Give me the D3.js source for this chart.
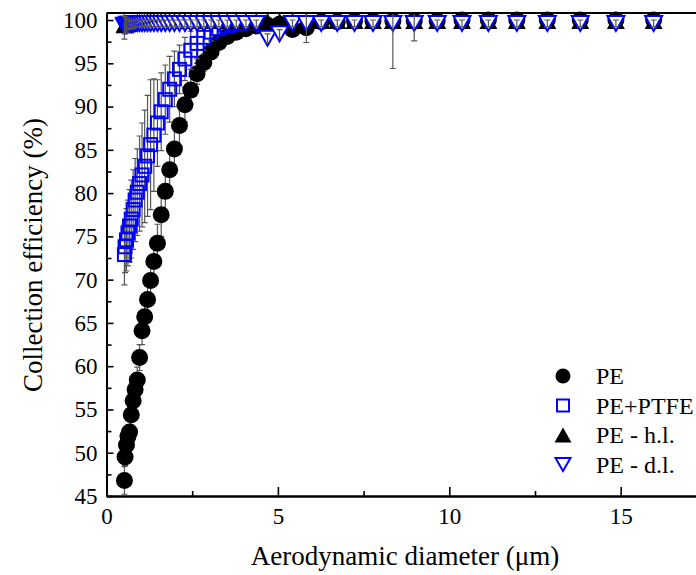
<!DOCTYPE html>
<html lang="en">
<head>
<meta charset="UTF-8">
<title>Collection efficiency vs aerodynamic diameter</title>
<script src="https://cdn.jsdelivr.net/npm/d3@7"></script>
<style>
  body { margin: 0; background: #fff; }
  svg { display: block; font-family: "Liberation Serif", "Times New Roman", serif; }
</style>
</head>
<body>
<svg id="chart" width="696" height="575"></svg>
<script>
// APS channel mid-point diameters (um)
const diameter = [0.523, 0.542, 0.583, 0.626, 0.673, 0.723, 0.777, 0.835, 0.898, 0.965,
  1.037, 1.114, 1.197, 1.286, 1.382, 1.486, 1.596, 1.715, 1.843, 1.981,
  2.129, 2.288, 2.458, 2.642, 2.839, 3.051, 3.278, 3.523, 3.786, 4.068,
  4.371, 4.698, 5.048, 5.425, 5.829, 6.264, 6.732, 7.234, 7.774, 8.354,
  8.977, 9.647, 10.37, 11.14, 11.97, 12.86, 13.82, 14.86, 15.96];

// PE
const pe = [46.8, 49.5, 50.9, 51.9, 52.4, 54.4, 56.0, 57.3, 58.4, 61.0,
  64.1, 65.7, 67.7, 69.9, 72.1, 74.2, 77.5, 80.2, 82.7, 85.1,
  87.8, 90.2, 91.9, 93.8, 95.1, 96.3, 97.4, 98.1, 98.6, 99.0,
  99.3, 99.4, 99.5, 98.9, 99.1, 99.8, 99.8, 99.9, 99.9, 99.9,
  99.9, 99.9, 100, 100, 100, 100, 100, 100, 100];
const peErr = [1.6, 1.0, 1.0, 1.0, 1.2, 1.2, 1.3, 1.3, 1.5, 1.5,
  1.6, 1.8, 1.8, 2.0, 2.0, 2.2, 2.5, 2.8, 2.8, 2.5,
  2.3, 2.0, 1.6, 1.2, 1.0, 0.8, 0.6, 0.5, 0.4, 0.3,
  0.3, 0.3, 0.3, 0.6, 0.5, 0.3, 0.3, 0.3, 0.3, 0.3,
  0.3, 0.3, 0.3, 0.3, 0.3, 0.3, 0.3, 0.3, 0.3];

// PE+PTFE (first 30 channels)
const ptfe = [72.9, 73.8, 74.6, 75.4, 76.2, 77.0, 78.1, 79.2, 80.1, 81.1,
  82.1, 83.1, 84.3, 85.6, 86.7, 88.1, 89.4, 90.8, 92.0, 93.2,
  94.3, 95.5, 96.5, 97.3, 98.0, 98.6, 99.0, 99.3, 99.5, 99.7];
const ptfeErr = [3.5, 3.0, 3.6, 3.8, 4.2, 4.5, 4.6, 4.8, 5.0, 5.5,
  6.0, 6.5, 7.0, 7.5, 6.5, 5.0, 4.5, 4.0, 3.8, 3.2,
  2.8, 2.5, 2.2, 1.8, 1.5, 1.0, 0.8, 0.6, 0.5, 0.4];

// PE - h.l.
const hl = [99.4, 99.5, 99.5, 99.6, 99.6, 99.7, 99.7, 99.7, 99.8, 99.8,
  99.8, 99.8, 99.9, 99.9, 99.9, 99.9, 99.9, 99.9, 99.9, 99.9,
  99.9, 99.9, 99.9, 99.9, 99.9, 99.9, 99.9, 99.9, 99.9, 99.9,
  99.9, 99.9, 99.9, 99.9, 99.9, 99.9, 99.9, 99.9, 99.9, 99.9,
  99.9, 99.9, 99.9, 99.9, 99.9, 99.9, 99.9, 99.9, 99.9];
const hlErr = [0.5, 0.5, 0.5, 0.4, 0.4, 0.4, 0.4, 0.3, 0.3, 0.3,
  0.3, 0.3, 0.3, 0.3, 0.3, 0.3, 0.3, 0.3, 0.3, 0.3,
  0.3, 0.3, 0.3, 0.3, 0.3, 0.3, 0.3, 0.3, 0.3, 0.3,
  0.3, 0.3, 0.3, 0.3, 0.3, 0.3, 0.3, 0.3, 0.3, 0.3,
  0.3, 0.3, 0.3, 0.3, 0.3, 0.3, 0.3, 0.3, 0.3];

// PE - d.l.
const dl = [99.3, 99.4, 99.4, 99.5, 99.5, 99.5, 99.5, 99.6, 99.6, 99.6,
  99.6, 99.6, 99.6, 99.6, 99.6, 99.6, 99.6, 99.6, 99.6, 99.6,
  99.6, 99.6, 99.6, 99.6, 99.6, 99.6, 99.6, 99.6, 99.6, 99.6,
  99.6, 97.9, 98.4, 99.6, 99.6, 99.6, 99.6, 99.6, 99.6, 99.6,
  99.6, 99.6, 99.6, 99.6, 99.6, 99.6, 99.6, 99.6, 99.6];
const dlErr = [1.5, 1.0, 0.8, 0.6, 0.5, 0.5, 0.5, 0.4, 0.4, 0.4,
  0.4, 0.4, 0.4, 0.4, 0.4, 0.4, 0.4, 0.4, 0.4, 0.4,
  0.4, 0.4, 0.4, 0.4, 0.4, 0.4, 0.4, 0.4, 0.4, 0.4,
  0.4, 0.5, 0.5, 0.4, 2.2, 0.4, 0.4, 0.4, 0.4, 5.2,
  2.0, 0.4, 0.4, 0.4, 0.4, 0.4, 0.4, 0.4, 0.4];

const xTicks = [0, 5, 10, 15];
const xMinor = [2.5, 7.5, 12.5, 17.5];
const yTicks = [45, 50, 55, 60, 65, 70, 75, 80, 85, 90, 95, 100];
const yMinor = [47.5, 52.5, 57.5, 62.5, 67.5, 72.5, 77.5, 82.5, 87.5, 92.5, 97.5];

const legendNames = ["PE", "PE+PTFE", "PE - h.l.", "PE - d.l."];

const svg = d3.select("#chart");
const x = d3.scaleLinear().domain([0, 17.5]).range([106.5, 706.4]);
const y = d3.scaleLinear().domain([45, 100.8]).range([496, 13.1]);

svg.append("defs").append("clipPath").attr("id", "plot")
  .append("rect")
  .attr("x", x(0)).attr("y", y(100.8))
  .attr("width", x(17.5) - x(0)).attr("height", y(45) - y(100.8));

// marker shapes (centred on bounding box)
function triUp(w, h) { return `M0,${-h/2}L${w/2},${h/2}L${-w/2},${h/2}Z`; }
function triDown(w, h) { return `M0,${h/2}L${w/2},${-h/2}L${-w/2},${-h/2}Z`; }

function errorBars(vals, errs, color) {
  const g = svg.append("g").attr("clip-path", "url(#plot)")
    .attr("stroke", color).attr("stroke-width", 1.2);
  vals.forEach((v, i) => {
    const cx = x(diameter[i]);
    g.append("line").attr("x1", cx).attr("x2", cx)
      .attr("y1", y(v - errs[i])).attr("y2", y(v + errs[i]));
    [v - errs[i], v + errs[i]].forEach(e => {
      g.append("line").attr("x1", cx - 3).attr("x2", cx + 3)
        .attr("y1", y(e)).attr("y2", y(e));
    });
  });
}

// PE
errorBars(pe, peErr, "#555");
svg.append("g").selectAll("circle").data(pe).join("circle")
  .attr("cx", (d, i) => x(diameter[i])).attr("cy", d => y(d))
  .attr("r", 8.5).attr("fill", "#000");

// PE+PTFE
errorBars(ptfe, ptfeErr, "#555");
svg.append("g").selectAll("rect").data(ptfe).join("rect")
  .attr("x", (d, i) => x(diameter[i]) - 6.5).attr("y", d => y(d) - 6.5)
  .attr("width", 13).attr("height", 13)
  .attr("fill", "none").attr("stroke", "#0000ff").attr("stroke-width", 2);

// PE - h.l.
errorBars(hl, hlErr, "#333");
svg.append("g").selectAll("path").data(hl).join("path")
  .attr("transform", (d, i) => `translate(${x(diameter[i])},${y(d)})`)
  .attr("d", triUp(18, 16)).attr("fill", "#000");

// PE - d.l.
svg.append("g").selectAll("path").data(dl).join("path")
  .attr("transform", (d, i) => `translate(${x(diameter[i])},${y(d)})`)
  .attr("d", triDown(17, 15)).attr("fill", "#fff")
  .attr("stroke", "#0000ff").attr("stroke-width", 2);
errorBars(dl, dlErr, "#555");

// axes
const fontSize = 23;
svg.append("g").attr("transform", `translate(0,${y(45)})`)
  .call(d3.axisBottom(x).tickValues(xTicks).tickSize(-9).tickSizeOuter(0).tickPadding(12));
svg.append("g").attr("transform", `translate(0,${y(45)})`)
  .call(d3.axisBottom(x).tickValues(xMinor).tickSize(-5).tickSizeOuter(0).tickFormat(""));
svg.append("g").attr("transform", `translate(${x(0)},0)`)
  .call(d3.axisLeft(y).tickValues(yTicks).tickSize(-7).tickSizeOuter(0).tickPadding(9));
svg.append("g").attr("transform", `translate(${x(0)},0)`)
  .call(d3.axisLeft(y).tickValues(yMinor).tickSize(-5).tickSizeOuter(0).tickFormat(""));

svg.selectAll(".domain").attr("stroke", "#000").attr("stroke-width", 2);
svg.selectAll(".tick line").attr("stroke", "#000").attr("stroke-width", 1.6);
svg.selectAll(".tick text").attr("font-family", "Liberation Serif, Times New Roman, serif")
  .attr("font-size", fontSize).attr("fill", "#000");

// top frame line
svg.append("line")
  .attr("x1", x(0)).attr("x2", x(17.5))
  .attr("y1", y(100.8)).attr("y2", y(100.8))
  .attr("stroke", "#000").attr("stroke-width", 2);

// axis titles
svg.append("text")
  .attr("x", 405).attr("y", 565)
  .attr("text-anchor", "middle").attr("font-size", 27)
  .text("Aerodynamic diameter (\u03bcm)");
svg.append("text")
  .attr("transform", "translate(42,255) rotate(-90)")
  .attr("text-anchor", "middle").attr("font-size", 27)
  .text("Collection efficiency (%)");

// legend
const lg = svg.append("g").attr("transform", "translate(563,376)");
const rowH = 29.5;
lg.append("circle").attr("cx", 0).attr("cy", 0).attr("r", 7.5).attr("fill", "#000");
lg.append("rect").attr("x", -6).attr("y", rowH - 6).attr("width", 12).attr("height", 12)
  .attr("fill", "none").attr("stroke", "#0000ff").attr("stroke-width", 2);
lg.append("path").attr("transform", `translate(0,${2 * rowH})`)
  .attr("d", triUp(17, 15)).attr("fill", "#000");
lg.append("path").attr("transform", `translate(0,${3 * rowH})`)
  .attr("d", triDown(15, 13)).attr("fill", "#fff")
  .attr("stroke", "#0000ff").attr("stroke-width", 2);
lg.selectAll("text").data(legendNames).join("text")
  .attr("x", 33).attr("y", (d, i) => i * rowH).attr("dy", "0.35em")
  .attr("font-size", 24).text(d => d);
</script>
</body>
</html>
